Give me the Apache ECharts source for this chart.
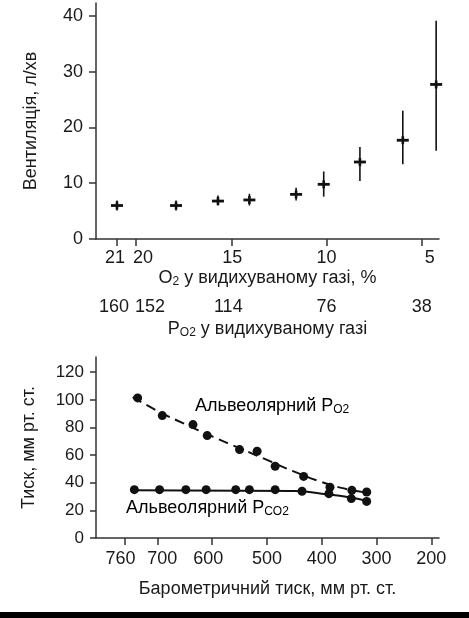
<!DOCTYPE html>
<html>
<head>
<meta charset="utf-8">
<script src="https://cdn.jsdelivr.net/npm/echarts@6/dist/echarts.min.js"></script>
<style>
  html, body { margin: 0; padding: 0; background: #fff; }
  #chart { width: 469px; height: 618px; }
</style>
</head>
<body>
<div id="chart"></div>
<script>
  // Top panel: ventilation vs O2 in inspired gas
  const o2Pct = [21, 17.9, 15.7, 14.05, 11.6, 10.15, 8.25, 6.0, 4.25];
  const ventMean = [6.0, 6.0, 6.8, 7.0, 8.0, 9.8, 13.8, 17.7, 27.7];
  const ventLow = [5.1, 5.1, 6.0, 6.0, 6.9, 7.6, 10.4, 13.4, 15.8];
  const ventHigh = [6.9, 6.9, 7.8, 8.1, 9.2, 12.1, 16.5, 23.0, 39.1];
  const o2Ticks = [21, 20, 15, 10, 5];
  const po2Labels = ["160", "152", "114", "76", "38"];
  const ventTicks = [0, 10, 20, 30, 40];

  // Bottom panel: alveolar gases vs barometric pressure
  const baroO2 = [736, 691, 635, 609, 550, 518, 485, 433, 385, 345, 318];
  const alvO2 = [101.4, 88.6, 82.1, 74.1, 64, 62.8, 51.9, 44.6, 36.7, 34.5, 33.3];
  const baroCO2 = [742, 696, 648, 611, 557, 532, 485, 436, 387, 346, 318];
  const alvCO2 = [35, 35, 35, 35, 35, 35, 35, 33.8, 32.1, 28.5, 26.5];
  const fitBaroO2 = [745, 700, 650, 600, 550, 500, 450, 400, 350, 310];
  const fitO2 = [102, 92, 82.5, 73.5, 65, 56.5, 48, 40.5, 35, 32.5];
  const fitBaroCO2 = [745, 450, 400, 350, 315];
  const fitCO2 = [34.5, 34, 32, 29.5, 26.5];
  const baroTicks = [760, 700, 600, 500, 400, 300, 200];
  const pressTicks = [0, 20, 40, 60, 80, 100, 120];

  const FONT = "Liberation Sans, Arial, sans-serif";
  const INK = "#1a1a1a";

  const zip = (a, b) => a.map((v, i) => [v, b[i]]);

  // labels in the original sit a little off their ticks; nudge them (px, + = right)
  const nudge = { "21": -2, "20": 7, "15": 1, "5": 8, "160": -3, "152": 14, "114": -3,
                  "760": -4, "700": 5, "600": -4 };
  function nudgedLabel(fontSize) {
    const rich = {};
    const fmt = text => {
      const d = nudge[text] || 0;
      const key = "n" + String(d).replace("-", "m");
      rich[key] = {
        color: INK, fontFamily: FONT, fontSize: fontSize,
        padding: d > 0 ? [0, 0, 0, 2 * d] : [0, -2 * d, 0, 0]
      };
      return "{" + key + "|" + text + "}";
    };
    return { fmt, rich };
  }
  const topLbl = nudgedLabel(18);
  const po2Lbl = nudgedLabel(18);
  const baroLbl = nudgedLabel(18);
  // prime rich keys before setOption
  o2Ticks.forEach(v => topLbl.fmt(String(v)));
  po2Labels.forEach(v => po2Lbl.fmt(v));
  baroTicks.forEach(v => baroLbl.fmt(String(v)));

  const chart = echarts.init(document.getElementById("chart"), null, { renderer: "canvas" });

  const labelStyle = { color: INK, fontFamily: FONT, fontSize: 17 };
  const subRich = {
    t: { color: INK, fontFamily: FONT, fontSize: 18 },
    s: { color: INK, fontFamily: FONT, fontSize: 12, verticalAlign: "bottom", padding: [7, 0, 0, 0] }
  };

  function renderErrorCross(params, api) {
    const x = api.value(0);
    const c = api.coord([x, api.value(1)]);
    const lo = api.coord([x, api.value(2)]);
    const hi = api.coord([x, api.value(3)]);
    return {
      type: "group",
      children: [
        { type: "line", shape: { x1: c[0], y1: hi[1], x2: c[0], y2: lo[1] },
          style: { stroke: "#111", lineWidth: 1.6 } },
        { type: "line", shape: { x1: c[0], y1: c[1] - 4, x2: c[0], y2: c[1] + 4 },
          style: { stroke: "#111", lineWidth: 2.6 } },
        { type: "line", shape: { x1: c[0] - 6, y1: c[1], x2: c[0] + 6, y2: c[1] },
          style: { stroke: "#111", lineWidth: 2.8 } }
      ]
    };
  }

  const axisLine = { show: true, lineStyle: { color: "#333", width: 1.5 } };

  const option = {
    backgroundColor: "#fff",
    animation: false,
    grid: [
      { left: 96, right: 30, top: 3, height: 236, outerBoundsMode: "none" },
      { left: 96, right: 30, top: 357, height: 181, outerBoundsMode: "none" }
    ],
    xAxis: [
      {
        gridIndex: 0, type: "value", position: "bottom", inverse: true, min: 4.1, max: 22.1,
        axisLine: axisLine,
        splitLine: { show: false },
        axisTick: { show: true, length: 7, customValues: o2Ticks, lineStyle: { color: "#333", width: 1.5 } },
        axisLabel: { margin: 10, customValues: o2Ticks, formatter: v => topLbl.fmt(String(v)), rich: topLbl.rich },
        name: "{t|O}{s|2}{t| у видихуваному газі, %}",
        nameLocation: "middle", nameGap: 30,
        nameTextStyle: { rich: subRich }
      },
      {
        gridIndex: 0, type: "value", position: "bottom", inverse: true, min: 4.1, max: 22.1,
        axisLine: { show: false },
        splitLine: { show: false },
        axisTick: { show: false },
        axisLabel: {
          margin: 59, customValues: o2Ticks,
          formatter: v => po2Lbl.fmt(po2Labels[o2Ticks.indexOf(v)]), rich: po2Lbl.rich
        },
        name: "{t|P}{s|O2}{t| у видихуваному газі}",
        nameLocation: "middle", nameGap: 81,
        nameTextStyle: { rich: subRich }
      },
      {
        gridIndex: 1, type: "value", inverse: true, min: 186, max: 812,
        axisLine: axisLine,
        splitLine: { show: false },
        axisTick: { show: true, length: 7, customValues: baroTicks, lineStyle: { color: "#333", width: 1.5 } },
        axisLabel: { margin: 12, customValues: baroTicks, formatter: v => baroLbl.fmt(String(v)), rich: baroLbl.rich },
        name: "Барометричний тиск, мм рт. ст.",
        nameLocation: "middle", nameGap: 42,
        nameTextStyle: { color: INK, fontFamily: FONT, fontSize: 18 }
      }
    ],
    yAxis: [
      {
        gridIndex: 0, type: "value", min: 0, max: 42.3,
        axisLine: axisLine,
        splitLine: { show: false },
        axisTick: { show: true, length: 7, customValues: ventTicks, lineStyle: { color: "#333", width: 1.5 } },
        axisLabel: { ...labelStyle, fontSize: 18, margin: 13, customValues: ventTicks },
        name: "Вентиляція, л/хв",
        nameLocation: "middle", nameGap: 56,
        nameTextStyle: { color: INK, fontFamily: FONT, fontSize: 18 }
      },
      {
        gridIndex: 1, type: "value", min: 0, max: 131,
        axisLine: axisLine,
        splitLine: { show: false },
        axisTick: { show: true, length: 6, customValues: pressTicks, lineStyle: { color: "#333", width: 1.5 } },
        axisLabel: { ...labelStyle, margin: 12, customValues: pressTicks },
        name: "Тиск, мм рт. ст.",
        nameLocation: "middle", nameGap: 58,
        nameTextStyle: { color: INK, fontFamily: FONT, fontSize: 18 }
      }
    ],
    series: [
      {
        type: "custom", xAxisIndex: 0, yAxisIndex: 0,
        renderItem: renderErrorCross,
        data: o2Pct.map((x, i) => [x, ventMean[i], ventLow[i], ventHigh[i]])
      },
      {
        type: "line", xAxisIndex: 2, yAxisIndex: 1, smooth: true, symbol: "none",
        lineStyle: { color: "#111", width: 2, type: [10, 6] },
        data: zip(fitBaroO2, fitO2)
      },
      {
        type: "line", xAxisIndex: 2, yAxisIndex: 1, smooth: true, symbol: "none",
        lineStyle: { color: "#111", width: 2 },
        data: zip(fitBaroCO2, fitCO2)
      },
      {
        type: "scatter", xAxisIndex: 2, yAxisIndex: 1, symbolSize: 9,
        itemStyle: { color: "#111", opacity: 1 },
        data: zip(baroO2, alvO2)
      },
      {
        type: "scatter", xAxisIndex: 2, yAxisIndex: 1, symbolSize: 9,
        itemStyle: { color: "#111", opacity: 1 },
        data: zip(baroCO2, alvCO2)
      }
    ],
    graphic: [
      {
        type: "text", left: 195, top: 397,
        style: { text: "{t|Альвеолярний P}{s|O2}", rich: subRich }
      },
      {
        type: "text", left: 126, top: 499,
        style: { text: "{t|Альвеолярний P}{s|CO2}", rich: subRich }
      },
      {
        type: "rect", left: 0, bottom: 0,
        shape: { width: 469, height: 6 },
        style: { fill: "#000" }
      }
    ]
  };

  chart.setOption(option);
</script>
</body>
</html>
